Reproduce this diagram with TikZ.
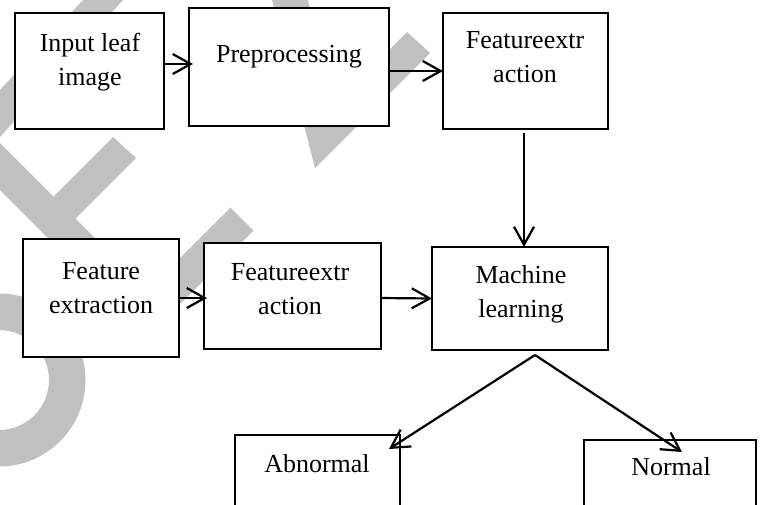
\documentclass[tikz,border=0pt]{standalone}
\usepackage{fontspec}
\setmainfont{Liberation Serif}
\usetikzlibrary{arrows.meta,calc}
\definecolor{wmgray}{RGB}{192,192,192}
\begin{document}
\begin{tikzpicture}[x=1pt,y=-1pt,
  box/.style={draw, line width=2.3pt, fill=white, inner sep=0pt, outer sep=0pt},
  lbl/.style={font=\fontsize{26pt}{33.5pt}\selectfont, align=center, anchor=base, inner sep=0pt},
  arr/.style={line width=2.2pt, -{Straight Barb[length=18pt,width=20pt]}},
  wm/.style={fill=wmgray}]

% page frame
\useasboundingbox (0,0) rectangle (760,504);
\clip (0,0) rectangle (760,504);

% background watermark strokes
\fill[wm] (83,0) -- (123,0) -- (0,137) -- (0,90) -- cycle;
\fill[wm] (0,143) -- (100,243) -- (100,290) -- (0,190) -- cycle;
\fill[wm] (113,137) -- (136,158) -- (62,232) -- (40,210) -- cycle;
\fill[wm] (230.5,207.5) -- (253.5,230.5) -- (142,342) -- (119,319) -- cycle;
\fill[wm,even odd rule] (-1,380) circle[radius=86.5pt] (-1,380) circle[radius=50pt];
\fill[wm] (272,0) -- (308,0) -- (334.7,104.3) -- (407,32) -- (430,53) -- (315,168) -- cycle;

% process boxes
\node[box, minimum width=149pt, minimum height=116pt] (in)  at (89.5,71)   {};
\node[box, minimum width=200pt, minimum height=118pt] (pre) at (289,67)    {};
\node[box, minimum width=165pt, minimum height=116pt] (fe1) at (525.5,71)  {};
\node[box, minimum width=156pt, minimum height=118pt] (fx)  at (101,298)   {};
\node[box, minimum width=177pt, minimum height=106pt] (fe2) at (292.5,296) {};
\node[box, minimum width=176pt, minimum height=103pt] (ml)  at (520,298.5) {};
\node[box, minimum width=165pt, minimum height=95pt]  (abn) at (317.5,482.5) {};
\node[box, minimum width=172pt, minimum height=90pt]  (nor) at (670,485)   {};

% box texts (base = baseline of the last line)
\node[lbl] (in-t)  at (90,85)   {Input leaf\\image};
\node[lbl] (pre-t) at (289,62)  {Preprocessing};
\node[lbl] (fe1-t) at (525,82)  {Featureextr\\action};
\node[lbl] (fx-t)  at (101,313) {Feature\\extraction};
\node[lbl] (fe2-t) at (290,314) {Featureextr\\action};
\node[lbl] (ml-t)  at (521,317) {Machine\\learning};
\node[lbl] (abn-t) at (317,472) {Abnormal};
\node[lbl] (nor-t) at (671,475) {Normal};

% connectors
\draw[arr, shorten >=-4pt] ([yshift=7pt]in.east) -- ([yshift=3pt]pre.west);
\draw[arr] ([yshift=-4pt]pre.east) -- (fe1.west);
\draw[arr, shorten <=4pt] ([xshift=-1.5pt]fe1.south) -- ([xshift=4pt]ml.north);
\draw[arr, shorten >=-3pt] (fx.east) -- ([yshift=-2pt]fe2.west);
\draw[arr] ([yshift=-2pt]fe2.east) -- (ml.west);
\coordinate (split) at ([xshift=15pt,yshift=-5pt]ml.south);
\draw[arr] (split) -- ($(abn.north east)+(-11,14)$);
\draw[arr] (split) -- ($(nor.north)+(12,12)$);
\end{tikzpicture}
\end{document}
